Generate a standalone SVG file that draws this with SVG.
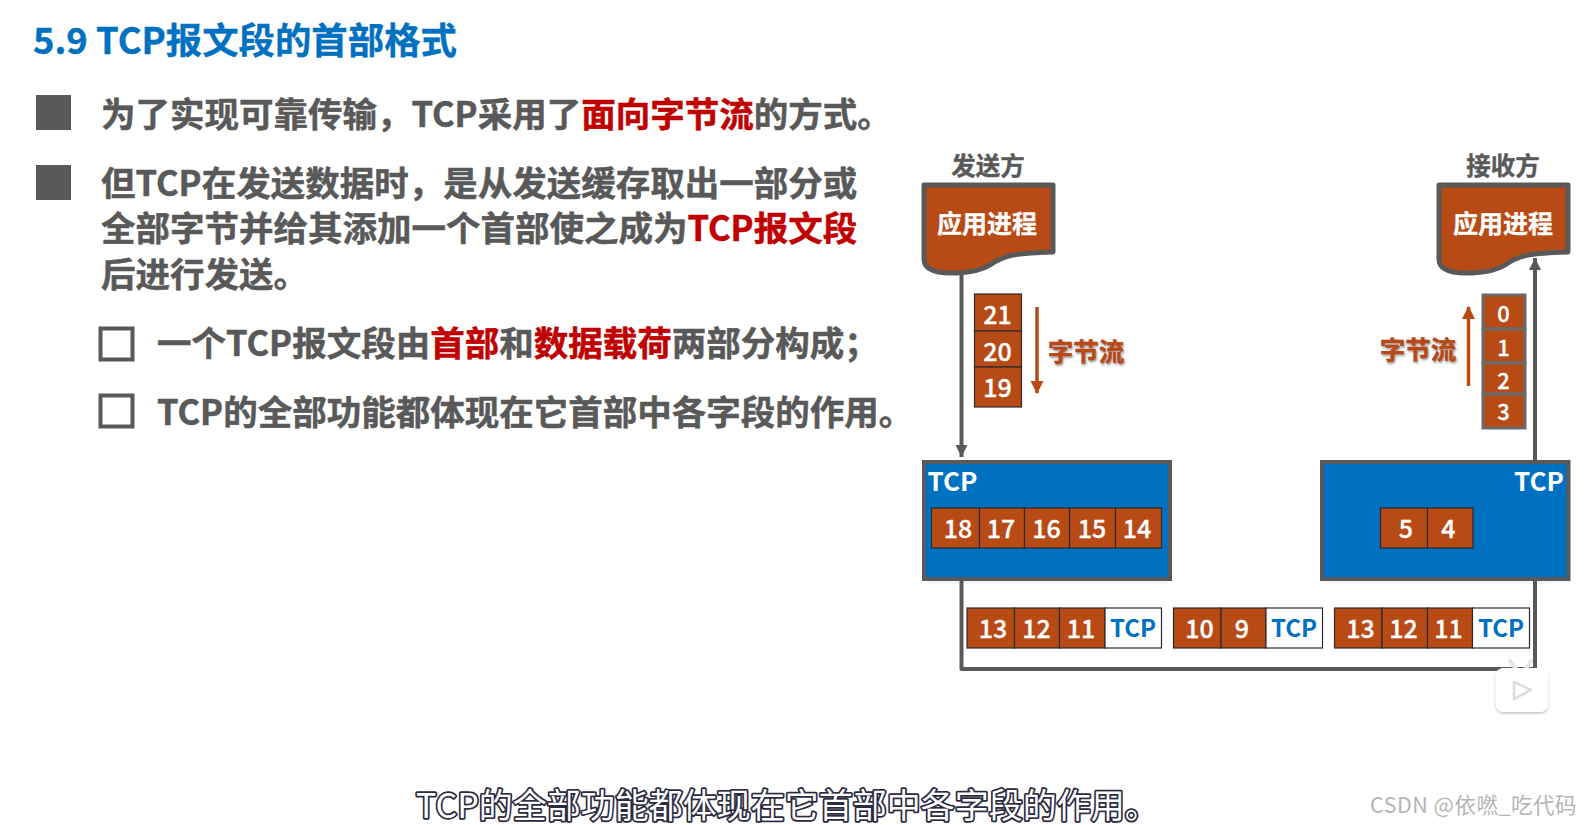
<svg xmlns="http://www.w3.org/2000/svg" width="1588" height="825" viewBox="0 0 1588 825">
<defs>
<style>
text{font-family:"Noto Sans CJK SC","Noto Sans",sans-serif}
.t{font-size:34.5px;font-weight:700;fill:#595959;stroke:#595959;stroke-width:.5}
.t .r{fill:#C00000;stroke:#C00000}
.bl{fill:#595959}
.cb{fill:#fff;stroke:#595959;stroke-width:4}
.ok{fill:#B84A16;stroke:#2b2b2b;stroke-width:1.2}
.og{fill:#B84A16;stroke:#6a6a6a;stroke-width:3}
.wt{fill:#fff;stroke:#2b2b2b;stroke-width:1.2}
.n{font-size:25px;font-weight:500;fill:#fff;text-anchor:middle;stroke:#fff;stroke-width:.3}
.tw{font-size:26px;font-weight:700;fill:#fff;text-anchor:middle}
.tb{font-size:24px;font-weight:700;fill:#0070C0;text-anchor:middle}
.lb{font-size:24.500px;font-weight:700;fill:#595959;text-anchor:middle;stroke:#595959;stroke-width:.4}
.ap{font-size:25px;font-weight:700;fill:#fff;text-anchor:middle;stroke:#fff;stroke-width:.3}
.flow{font-size:25.500px;font-weight:700;fill:#B84A16;text-anchor:middle;stroke:#B84A16;stroke-width:.4;filter:url(#sh)}
.tcp{fill:#0070C0;stroke:#595959;stroke-width:4}
.proc{fill:#B84A16;stroke:#595959;stroke-width:5;stroke-linejoin:round}
.line{fill:none;stroke:#595959;stroke-width:4;stroke-linejoin:round}
.oline{fill:none;stroke:#B84A16;stroke-width:3.5}
</style>
<filter id="sh" x="-10%" y="-15%" width="125%" height="140%"><feDropShadow dx="1" dy="1.500" stdDeviation="1" flood-color="#555" flood-opacity=".65"/></filter>
<filter id="bs" x="-15%" y="-15%" width="130%" height="135%"><feDropShadow dx="0" dy="1.500" stdDeviation="1.200" flood-color="#999" flood-opacity=".6"/></filter>
<marker id="ag" markerUnits="userSpaceOnUse" markerWidth="14" markerHeight="14" refX="12" refY="6" orient="auto"><path d="M0 0L12 6L0 12Z" fill="#595959"/></marker>
<marker id="ao" markerUnits="userSpaceOnUse" markerWidth="14" markerHeight="14" refX="12" refY="6.500" orient="auto"><path d="M0 0L13 6.500L0 13Z" fill="#B84A16"/></marker>
<path id="pr" d="M0 0H129V67C92 68 80 70 66 80C50 90 15 90 6 84Q0 81 0 74Z"/>
</defs>
<rect width="1588" height="825" fill="#fff"/>

<text x="33" y="54" font-size="36.400" font-weight="700" fill="#0070C0" stroke="#0070C0" stroke-width=".4">5.9 TCP报文段的首部格式</text>

<g id="bullets">
<rect class="bl" x="36" y="95" width="35" height="35"/>
<rect class="bl" x="36" y="165" width="35" height="35"/>
<rect class="cb" x="100.500" y="328.500" width="32" height="31"/>
<rect class="cb" x="100.500" y="395.500" width="32" height="31"/>
</g>
<g id="body">
<text class="t" x="101" y="127">为了实现可靠传输，TCP采用了<tspan class="r">面向字节流</tspan>的方式。</text>
<text class="t" x="101" y="196">但TCP在发送数据时，是从发送缓存取出一部分或</text>
<text class="t" x="101" y="241">全部字节并给其添加一个首部使之成为<tspan class="r">TCP报文段</tspan></text>
<text class="t" x="101" y="287">后进行发送。</text>
<text class="t" x="157" y="356">一个TCP报文段由<tspan class="r">首部</tspan>和<tspan class="r">数据载荷</tspan>两部分构成；</text>
<text class="t" x="157" y="425">TCP的全部功能都体现在它首部中各字段的作用。</text>
</g>

<g id="connectors">
<path class="line" d="M961.500 270V457" marker-end="url(#ag)"/>
<path class="line" d="M1535 461V258" marker-end="url(#ag)"/>
<path class="line" d="M961.500 580V669H1535V580"/>
<path class="oline" d="M1037 307V393" marker-end="url(#ao)"/>
<path class="oline" d="M1468.500 386V307" marker-end="url(#ao)"/>
</g>

<g id="sender-label"><text class="lb" x="988" y="175">发送方</text></g>
<g id="receiver-label"><text class="lb" x="1503" y="175">接收方</text></g>
<g id="sender-process"><use href="#pr" class="proc" x="924" y="185"/><text class="ap" x="987" y="233">应用进程</text></g>
<g id="receiver-process"><use href="#pr" class="proc" x="1439" y="185"/><text class="ap" x="1503" y="233">应用进程</text></g>

<g id="stack-sender">
<rect class="ok" x="974.500" y="294" width="47" height="37"/>
<rect class="ok" x="974.500" y="331" width="47" height="36"/>
<rect class="ok" x="974.500" y="367" width="47" height="40"/>
<text class="n" x="997.500" y="324">21</text>
<text class="n" x="997.500" y="361">20</text>
<text class="n" x="997.500" y="397">19</text>
<text class="flow" x="1086" y="361">字节流</text>
</g>
<g id="stack-receiver">
<rect class="og" x="1483" y="295" width="42" height="34"/>
<rect class="og" x="1483" y="329" width="42" height="34"/>
<rect class="og" x="1483" y="363" width="42" height="31"/>
<rect class="og" x="1483" y="394" width="42" height="34"/>
<text class="n" x="1503.500" y="322" style="font-size:22px">0</text>
<text class="n" x="1503.500" y="356" style="font-size:22px">1</text>
<text class="n" x="1503.500" y="389" style="font-size:22px">2</text>
<text class="n" x="1503.500" y="420" style="font-size:22px">3</text>
<text class="flow" x="1418" y="359">字节流</text>
</g>

<g id="tcp-sender">
<rect class="tcp" x="924" y="462" width="246" height="117"/>
<text class="tw" x="952.500" y="491">TCP</text>
<rect class="ok" x="931.500" y="508" width="48" height="40"/>
<rect class="ok" x="979.500" y="508" width="45" height="40"/>
<rect class="ok" x="1024.500" y="508" width="45" height="40"/>
<rect class="ok" x="1069.500" y="508" width="46" height="40"/>
<rect class="ok" x="1115.500" y="508" width="46" height="40"/>
<text class="n" x="958" y="538">18</text>
<text class="n" x="1001" y="538">17</text>
<text class="n" x="1046.500" y="538">16</text>
<text class="n" x="1092" y="538">15</text>
<text class="n" x="1137" y="538">14</text>
</g>
<g id="tcp-receiver">
<rect class="tcp" x="1322" y="462" width="246.500" height="117"/>
<text class="tw" x="1539" y="491">TCP</text>
<rect class="ok" x="1380.500" y="508" width="47" height="40"/>
<rect class="ok" x="1427.500" y="508" width="45.500" height="40"/>
<text class="n" x="1406" y="538">5</text>
<text class="n" x="1448.500" y="538">4</text>
</g>

<g id="segment-1">
<rect class="ok" x="967" y="608" width="47.500" height="40"/>
<rect class="ok" x="1014.500" y="608" width="45" height="40"/>
<rect class="ok" x="1059.500" y="608" width="45.500" height="40"/>
<rect class="wt" x="1105" y="608" width="56.500" height="40"/>
<text class="n" x="993" y="638">13</text>
<text class="n" x="1036.500" y="638">12</text>
<text class="n" x="1081" y="638">11</text>
<text class="tb" x="1133" y="637">TCP</text>
</g>
<g id="segment-2">
<rect class="ok" x="1173.500" y="608" width="47.500" height="40"/>
<rect class="ok" x="1221" y="608" width="45" height="40"/>
<rect class="wt" x="1266" y="608" width="56.500" height="40"/>
<text class="n" x="1199.500" y="638">10</text>
<text class="n" x="1242" y="638">9</text>
<text class="tb" x="1294" y="637">TCP</text>
</g>
<g id="segment-3">
<rect class="ok" x="1334.500" y="608" width="47.500" height="40"/>
<rect class="ok" x="1382" y="608" width="45.500" height="40"/>
<rect class="ok" x="1427.500" y="608" width="45" height="40"/>
<rect class="wt" x="1472.500" y="608" width="57" height="40"/>
<text class="n" x="1360.500" y="638">13</text>
<text class="n" x="1403.500" y="638">12</text>
<text class="n" x="1448.500" y="638">11</text>
<text class="tb" x="1501" y="637">TCP</text>
</g>

<g id="play-badge">
<path d="M1510 661L1516 669M1531 661L1526 669" stroke="#e6e6e6" stroke-width="4" stroke-linecap="round"/>
<rect x="1495.500" y="668" width="53" height="44" rx="8" fill="#fff" filter="url(#bs)"/>
<path d="M1514 682L1531 690L1514 699Z" fill="#fff" stroke="#dcdcdc" stroke-width="2.500" stroke-linejoin="round"/>
</g>

<text x="416" y="818" font-size="34" fill="#fff" stroke="#2a2a40" stroke-width="3.500" paint-order="stroke" stroke-linejoin="round">TCP的全部功能都体现在它首部中各字段的作用。</text>
<text x="1370" y="813" font-size="21.500" letter-spacing=".5" fill="#b5b5b5">CSDN @依嘫_吃代码</text>
</svg>
